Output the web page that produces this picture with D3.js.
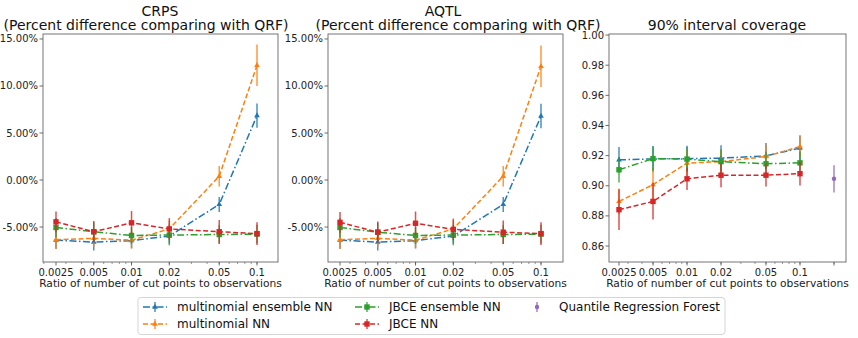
<!DOCTYPE html>
<html>
<head>
<meta charset="utf-8">
<script src="https://cdn.jsdelivr.net/npm/d3@7"></script>
<style>
  body { margin: 0; background: #fff; }
  svg { font-family: "DejaVu Sans", sans-serif; }
</style>
</head>
<body>
<svg id="chart" width="858" height="338"></svg>
<script>
// x categories (ratio of cut points to observations)
var ratios = [0.0025, 0.005, 0.01, 0.02, 0.05, 0.1];
var ratioLabels = ["0.0025", "0.005", "0.01", "0.02", "0.05", "0.1"];
var qrfRatio = 0.2;

// CRPS, percent difference vs QRF
var crpsMultiEns    = [-6.4, -6.6, -6.45, -5.95, -2.6, 6.85];
var crpsMultiEnsErr = [0.9, 0.9, 0.8, 0.8, 0.8, 1.3];
var crpsMulti       = [-6.35, -6.2, -6.4, -5.2, 0.4, 12.2];
var crpsMultiErr    = [1.0, 0.9, 0.9, 0.9, 1.1, 2.2];
var crpsJbceEns     = [-5.05, -5.5, -5.9, -5.85, -5.8, -5.75];
var crpsJbceEnsErr  = [1.0, 1.0, 0.9, 1.1, 1.0, 1.0];
var crpsJbce        = [-4.45, -5.5, -4.55, -5.2, -5.5, -5.7];
var crpsJbceErr     = [1.1, 1.15, 1.25, 1.15, 1.25, 1.2];

// AQTL, percent difference vs QRF
var aqtlMultiEns    = [-6.4, -6.6, -6.45, -5.95, -2.6, 6.8];
var aqtlMultiEnsErr = [0.9, 0.9, 0.8, 0.8, 0.8, 1.3];
var aqtlMulti       = [-6.35, -6.2, -6.4, -5.2, 0.4, 12.1];
var aqtlMultiErr    = [1.0, 0.9, 0.9, 0.9, 1.1, 2.2];
var aqtlJbceEns     = [-5.05, -5.55, -5.9, -5.85, -5.8, -5.75];
var aqtlJbceEnsErr  = [1.0, 1.0, 0.9, 1.1, 1.0, 1.0];
var aqtlJbce        = [-4.5, -5.55, -4.6, -5.25, -5.55, -5.7];
var aqtlJbceErr     = [1.1, 1.15, 1.25, 1.15, 1.25, 1.2];

// 90% interval coverage
var covMultiEns    = [0.9172, 0.9178, 0.918, 0.9183, 0.9198, 0.925];
var covMultiEnsErr = [0.0085, 0.0085, 0.0085, 0.0085, 0.0085, 0.0085];
var covMulti       = [0.8896, 0.9007, 0.915, 0.916, 0.9194, 0.926];
var covMultiErr    = [0.0085, 0.011, 0.0085, 0.008, 0.008, 0.007];
var covJbceEns     = [0.9106, 0.918, 0.9177, 0.916, 0.9146, 0.9152];
var covJbceEnsErr  = [0.0085, 0.008, 0.008, 0.008, 0.008, 0.0075];
var covJbce        = [0.8841, 0.8896, 0.9046, 0.907, 0.907, 0.908];
var covJbceErr     = [0.0135, 0.012, 0.0075, 0.008, 0.0075, 0.0078];
var covQrf         = 0.9046;
var covQrfErr      = 0.009;

var seriesNames = ["multinomial ensemble NN", "multinomial NN", "JBCE ensemble NN", "JBCE NN", "Quantile Regression Forest"];
var colors = ["#1f77b4", "#ff7f0e", "#2ca02c", "#d62728", "#9467bd"];
var dashes = ["7,2.5,1.5,2.5", "5,2.5", "7,2.5,1.5,2.5", "5,2.5", null];
var markers = ["tri", "tri", "sq", "sq", "dot"];

var svg = d3.select("#chart");
var plotTop = 34, plotBottom = 262;

function drawMarker(g, type, x, y, color) {
  if (type === "sq") {
    g.append("rect").attr("x", x - 2.7).attr("y", y - 2.7).attr("width", 5.4).attr("height", 5.4).attr("fill", color);
  } else if (type === "tri") {
    g.append("path").attr("d", d3.symbol().type(d3.symbolTriangle).size(14)()).attr("transform", "translate(" + x + "," + y + ")").attr("fill", color);
  } else {
    g.append("circle").attr("cx", x).attr("cy", y).attr("r", 2.2).attr("fill", color);
  }
}

function drawPanel(opt) {
  var w = opt.right - opt.left, h = plotBottom - plotTop;
  var g = svg.append("g").attr("transform", "translate(" + opt.left + "," + plotTop + ")");
  var x = d3.scaleLog().domain(opt.xDomain).range(opt.xRange);
  var y = d3.scaleLinear().domain(opt.yDomain).range([h, 0]);

  // minor log ticks
  var minors = [];
  [0.001, 0.01, 0.1].forEach(function(dec) {
    for (var k = 1; k < 10; k++) {
      var px = x(k * dec);
      if (px >= 0 && px <= w) minors.push(px);
    }
  });
  minors.forEach(function(px) {
    g.append("line").attr("x1", px).attr("x2", px).attr("y1", h).attr("y2", h + 2)
      .attr("stroke", "#555").attr("stroke-width", 0.6);
  });

  // x ticks
  ratios.forEach(function(r, i) {
    g.append("line").attr("x1", x(r)).attr("x2", x(r)).attr("y1", h).attr("y2", h + 3.5)
      .attr("stroke", "#444").attr("stroke-width", 0.8);
    g.append("text").attr("x", x(r)).attr("y", h + 14).attr("text-anchor", "middle")
      .attr("font-size", 10).attr("fill", "#222").text(ratioLabels[i]);
  });
  if (opt.qrf) {
    g.append("line").attr("x1", x(qrfRatio)).attr("x2", x(qrfRatio)).attr("y1", h).attr("y2", h + 3.5)
      .attr("stroke", "#444").attr("stroke-width", 0.8);
  }

  // y ticks
  opt.yTicks.forEach(function(t) {
    g.append("line").attr("x1", -3.5).attr("x2", 0).attr("y1", y(t)).attr("y2", y(t))
      .attr("stroke", "#444").attr("stroke-width", 0.8);
    g.append("text").attr("x", -5).attr("y", y(t)).attr("dy", "0.35em").attr("text-anchor", "end")
      .attr("font-size", 10).attr("fill", "#222").text(opt.yFormat(t));
  });

  // series
  opt.series.forEach(function(s, si) {
    var pts = ratios.map(function(r, i) { return [x(r), y(s.v[i]), y(s.v[i] - s.e[i]), y(s.v[i] + s.e[i])]; });
    pts.forEach(function(p) {
      g.append("line").attr("x1", p[0]).attr("x2", p[0]).attr("y1", p[2]).attr("y2", p[3])
        .attr("stroke", colors[si]).attr("stroke-width", 1.5).attr("opacity", 0.8);
    });
    g.append("path").attr("d", d3.line()(pts.map(function(p) { return [p[0], p[1]]; })))
      .attr("fill", "none").attr("stroke", colors[si]).attr("stroke-width", 1.5)
      .attr("stroke-dasharray", dashes[si]);
    pts.forEach(function(p) { drawMarker(g, markers[si], p[0], p[1], colors[si]); });
  });
  if (opt.qrf) {
    var qx = x(qrfRatio);
    g.append("line").attr("x1", qx).attr("x2", qx).attr("y1", y(covQrf - covQrfErr)).attr("y2", y(covQrf + covQrfErr))
      .attr("stroke", colors[4]).attr("stroke-width", 1.5).attr("opacity", 0.8);
    drawMarker(g, "dot", qx, y(covQrf), colors[4]);
  }

  // frame
  g.append("rect").attr("x", 0).attr("y", 0).attr("width", w).attr("height", h)
    .attr("fill", "none").attr("stroke", "#666").attr("stroke-width", 0.9);

  // titles
  opt.titles.forEach(function(t) {
    svg.append("text").attr("x", t.x).attr("y", t.y).attr("text-anchor", "middle")
      .attr("font-size", 14).attr("fill", "#111").text(t.text);
  });
  svg.append("text").attr("x", opt.left + w / 2).attr("y", 287).attr("text-anchor", "middle")
    .attr("font-size", 10.7).attr("fill", "#222").text("Ratio of number of cut points to observations");
}

var pctFmt = function(t) { return t.toFixed(2) + "%"; };

drawPanel({
  left: 43, right: 278, xDomain: [0.0025, 0.1], xRange: [13, 214],
  yDomain: [-8.72, 15.53], yTicks: [-5, 0, 5, 10, 15], yFormat: pctFmt,
  series: [
    {v: crpsMultiEns, e: crpsMultiEnsErr}, {v: crpsMulti, e: crpsMultiErr},
    {v: crpsJbceEns, e: crpsJbceEnsErr}, {v: crpsJbce, e: crpsJbceErr}
  ],
  titles: [{x: 160, y: 15.5, text: "CRPS"}, {x: 146, y: 30, text: "(Percent difference comparing with QRF)"}]
});

drawPanel({
  left: 328, right: 563, xDomain: [0.0025, 0.1], xRange: [12, 213],
  yDomain: [-8.72, 15.53], yTicks: [-5, 0, 5, 10, 15], yFormat: pctFmt,
  series: [
    {v: aqtlMultiEns, e: aqtlMultiEnsErr}, {v: aqtlMulti, e: aqtlMultiErr},
    {v: aqtlJbceEns, e: aqtlJbceEnsErr}, {v: aqtlJbce, e: aqtlJbceErr}
  ],
  titles: [{x: 443, y: 15.5, text: "AQTL"}, {x: 458, y: 30, text: "(Percent difference comparing with QRF)"}]
});

drawPanel({
  left: 609, right: 846, xDomain: [0.0025, qrfRatio], xRange: [10, 225],
  yDomain: [0.8494, 1.0007], yTicks: [0.86, 0.88, 0.90, 0.92, 0.94, 0.96, 0.98, 1.00],
  yFormat: function(t) { return t.toFixed(2); },
  qrf: true,
  series: [
    {v: covMultiEns, e: covMultiEnsErr}, {v: covMulti, e: covMultiErr},
    {v: covJbceEns, e: covJbceEnsErr}, {v: covJbce, e: covJbceErr}
  ],
  titles: [{x: 727, y: 30, text: "90% interval coverage"}]
});

// legend
var leg = svg.append("g");
leg.append("rect").attr("x", 138).attr("y", 297.5).attr("width", 587).attr("height", 37).attr("rx", 3)
  .attr("fill", "#fff").attr("stroke", "#d0d0d0").attr("stroke-width", 0.9);
var legPos = [[155, 307], [155, 324], [367, 307], [367, 324], [537, 307]];
var textX = [177, 177, 389, 389, 559];
seriesNames.forEach(function(name, i) {
  var cx = legPos[i][0], cy = legPos[i][1];
  if (i < 4) {
    leg.append("line").attr("x1", cx - 12).attr("x2", cx + 12).attr("y1", cy).attr("y2", cy)
      .attr("stroke", colors[i]).attr("stroke-width", 1.5).attr("stroke-dasharray", dashes[i]);
  }
  leg.append("line").attr("x1", cx).attr("x2", cx).attr("y1", cy - 5).attr("y2", cy + 5)
    .attr("stroke", colors[i]).attr("stroke-width", 1.5).attr("opacity", 0.8);
  drawMarker(leg, markers[i], cx, cy, colors[i]);
  leg.append("text").attr("x", textX[i]).attr("y", cy).attr("dy", "0.35em")
    .attr("font-size", 12).attr("fill", "#111").text(name);
});
</script>
</body>
</html>
